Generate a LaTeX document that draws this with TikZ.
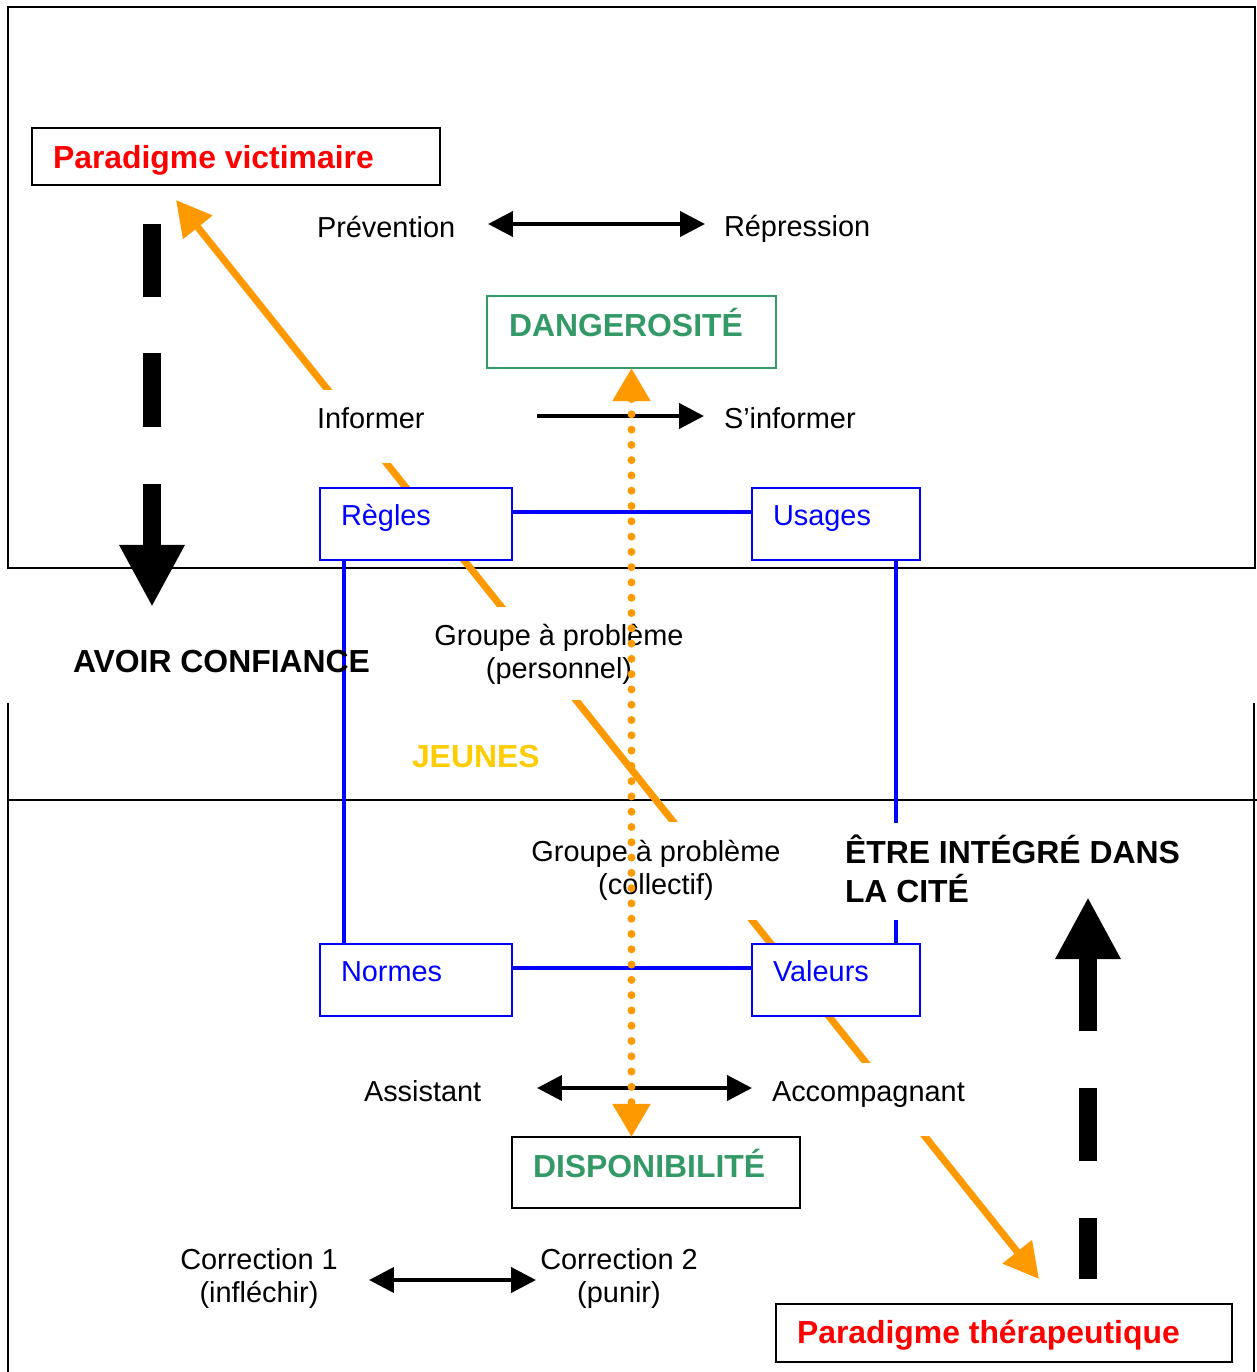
\documentclass[tikz,border=0pt]{standalone}
\usepackage{fontspec}
\setmainfont{Liberation Sans}
\usetikzlibrary{arrows.meta}
\definecolor{orng}{HTML}{FF9900}
\definecolor{grn}{HTML}{339966}
\definecolor{gold}{HTML}{FFCC00}
\begin{document}
\begin{tikzpicture}[x=0.02cm,y=-0.02cm,
  every node/.style={inner sep=0pt,outer sep=0pt},
  reg/.style={font=\fontsize{16.45pt}{19.3pt}\selectfont,anchor=base west},
  regc/.style={font=\fontsize{16.45pt}{19.3pt}\selectfont,anchor=base},
  bld/.style={font=\fontsize{18.15pt}{21.6pt}\selectfont\bfseries,anchor=base west},
  frameline/.style={line width=1.4pt},
  blackbox/.style={draw=black,fill=white,line width=1.4pt,anchor=north west},
  bluebox/.style={draw=blue,fill=white,line width=1.4pt,anchor=north west},
  greenbox/.style={draw=grn,fill=white,line width=1.4pt,anchor=north west},
  blueline/.style={blue,line width=2pt},
  maskbox/.style={fill=white},
  orangearrow/.style={orng,line width=4pt,{Triangle[length=19.9pt,width=20.5pt]}-{Triangle[length=19.9pt,width=20.5pt]}},
  dotarrow/.style={orng,line width=4.55pt,line cap=round,dash pattern=on 0pt off 8.7pt,{Triangle[length=18.8pt,width=20.5pt]}-{Triangle[length=18.8pt,width=20.5pt]}},
  thinarrow/.style={black,line width=2.3pt},
  thinhead/.tip={Triangle[length=14.2pt,width=14.2pt]},
  thickhead/.tip={Triangle[length=35.3pt,width=34.7pt]},
  thickarrow/.style={black,line width=10.24pt,-thickhead}
]
\useasboundingbox (0,0) rectangle (1257,1372);

% frames
\draw[frameline] (8,7) rectangle (1255,568);
\draw[frameline] (8,703) -- (8,1380);
\draw[frameline] (1254,703) -- (1254,1380);
\draw[frameline] (8,800) -- (1257,800);

% orange diagonal (two heads)
\coordinate (pvtip) at (176,200);
\coordinate (pttip) at (1039,1279);
\draw[orangearrow] (pvtip) -- (pttip);

% boxes of the blue square
\node[bluebox,minimum width=3.84cm,minimum height=1.44cm] (regles) at (320,488) {};
\node[bluebox,minimum width=3.36cm,minimum height=1.44cm] (usages) at (752,488) {};
\node[bluebox,minimum width=3.84cm,minimum height=1.44cm] (normes) at (320,944) {};
\node[bluebox,minimum width=3.36cm,minimum height=1.44cm] (valeurs) at (752,944) {};

% blue connectors
\draw[blueline] ([yshift=0.24cm]regles.east) -- ([yshift=0.24cm]usages.west);
\draw[blueline] ([yshift=0.24cm]normes.east) -- ([yshift=0.24cm]valeurs.west);
\draw[blueline] ([xshift=0.48cm]regles.south west) -- ([xshift=0.48cm]normes.north west);
\draw[blueline] ([xshift=-0.48cm]usages.south east) -- ([xshift=-0.48cm]valeurs.north east);

% text-box backgrounds
\fill[maskbox] (300,390) rectangle (530,463);
\fill[maskbox] (420,607) rectangle (700,700);
\fill[maskbox] (520,822) rectangle (792,920);
\fill[maskbox] (838,823) rectangle (1200,920);
\fill[maskbox] (752,1063) rectangle (985,1136);

% other boxes
\node[blackbox,minimum width=8.16cm,minimum height=1.14cm] (pv) at (32,128) {};
\node[greenbox,minimum width=5.78cm,minimum height=1.44cm] (dang) at (487,296) {};
\node[blackbox,minimum width=5.76cm,minimum height=1.42cm] (dispo) at (512,1137) {};
\node[blackbox,minimum width=9.12cm,minimum height=1.16cm] (pt) at (776,1304) {};

% texts
\node[bld,red] (pvt) at (53,168) {Paradigme victimaire};
\node[reg] (prev) at (317,237) {Prévention};
\node[reg] (repr) at (724,236) {Répression};
\node[bld,grn] (dangt) at (509,336) {DANGEROSITÉ};
\node[reg] (inf) at (317,428) {Informer};
\node[reg] (sinf) at (724,428) {S’informer};
\node[reg,blue] (reglest) at (341,525) {Règles};
\node[reg,blue] (usagest) at (773,525) {Usages};
\node[bld] (avoir) at (73,672) {AVOIR CONFIANCE};
\node[regc] (gp) at (559,645) {\begin{tabular}[t]{@{}c@{}}Groupe à problème\\(personnel)\end{tabular}};
\node[bld,gold] (jeunes) at (412,767) {JEUNES};
\node[regc] (gc) at (656,861) {\begin{tabular}[t]{@{}c@{}}Groupe à problème\\(collectif)\end{tabular}};
\node[bld] (etre) at (845,863) {\begin{tabular}[t]{@{}l@{}}ÊTRE INTÉGRÉ DANS\\LA CITÉ\end{tabular}};
\node[reg,blue] (normest) at (341,981) {Normes};
\node[reg,blue] (valeurst) at (773,981) {Valeurs};
\node[reg] (assist) at (364,1101) {Assistant};
\node[reg] (accomp) at (772,1101) {Accompagnant};
\node[bld,grn] (dispot) at (533,1177) {DISPONIBILITÉ};
\node[regc] (corr1) at (259,1269) {\begin{tabular}[t]{@{}c@{}}Correction 1\\(infléchir)\end{tabular}};
\node[regc] (corr2) at (619,1269) {\begin{tabular}[t]{@{}c@{}}Correction 2\\(punir)\end{tabular}};
\node[bld,red] (ptt) at (797,1343) {Paradigme thérapeutique};

% black thin arrows
\coordinate (a1) at (488,224); \coordinate (a2) at (705,224);
\draw[thinarrow,thinhead-thinhead] (a1) -- (a2);
\coordinate (b1) at (537,416); \coordinate (b2) at (704,416);
\draw[thinarrow,-thinhead] (b1) -- (b2);
\coordinate (c1) at (537,1088); \coordinate (c2) at (752,1088);
\draw[thinarrow,thinhead-thinhead] (c1) -- (c2);
\coordinate (d1) at (369,1280); \coordinate (d2) at (536,1280);
\draw[thinarrow,thinhead-thinhead] (d1) -- (d2);

% thick dashed arrows
\coordinate (l1) at (152,224); \coordinate (l2) at (152,607);
\draw[thickarrow,dash pattern=on 41.5pt off 31.9pt on 42.1pt off 32.4pt on 50pt off 10pt] (l1) -- (l2);
\coordinate (r1) at (1088,1279); \coordinate (r2) at (1088,897);
\draw[thickarrow,dash pattern=on 34.7pt off 32.4pt on 41.5pt off 32.4pt on 50pt off 10pt] (r1) -- (r2);

% dotted orange double arrow
\draw[dotarrow] (dang.south) -- (dang.south |- dispo.north);
\end{tikzpicture}
\end{document}
